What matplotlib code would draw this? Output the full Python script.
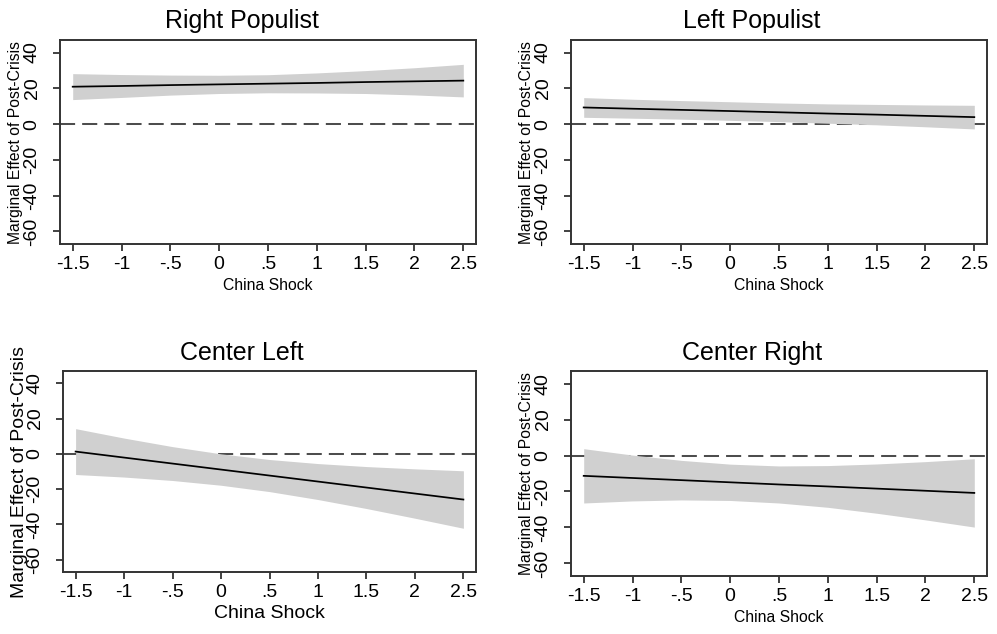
import matplotlib
matplotlib.use('Agg')
import matplotlib.pyplot as plt

plt.rcParams['font.family'] = ['Liberation Sans', 'DejaVu Sans']
plt.rcParams['axes.unicode_minus'] = False

# ----- DATA -----
china_shock = [-1.5, -1, -0.5, 0, 0.5, 1, 1.5, 2, 2.5]

right_pop_est = [20.9, 21.3, 21.8, 22.2, 22.6, 23.0, 23.5, 23.9, 24.3]
right_pop_lo = [13.7, 14.9, 16.2, 17.1, 17.5, 17.4, 17.1, 16.3, 15.2]
right_pop_hi = [28.2, 27.7, 27.4, 27.3, 27.6, 28.6, 29.9, 31.5, 33.4]

left_pop_est = [9.3, 8.6, 7.95, 7.3, 6.6, 5.9, 5.3, 4.6, 3.9]
left_pop_lo = [3.8, 3.3, 2.75, 2.1, 1.4, 0.5, -0.4, -1.5, -2.7]
left_pop_hi = [14.8, 13.9, 13.15, 12.5, 11.8, 11.3, 11.0, 10.7, 10.5]

center_left_est = [1.3, -2.1, -5.5, -8.9, -12.3, -15.7, -19.1, -22.5, -25.9]
center_left_lo = [-11.7, -13.15, -15.1, -17.8, -21.4, -25.9, -31.0, -36.5, -42.2]
center_left_hi = [14.3, 8.95, 4.1, 0.0, -3.2, -5.5, -7.2, -8.5, -9.6]

center_right_est = [-11.3, -12.5, -13.7, -14.9, -16.1, -17.2, -18.4, -19.6, -20.8]
center_right_lo = [-26.4, -25.25, -24.7, -25.0, -26.4, -28.8, -32.1, -35.8, -39.8]
center_right_hi = [3.8, 0.25, -2.7, -4.8, -5.8, -5.6, -4.7, -3.4, -1.8]

x_ticks = [-1.5, -1, -0.5, 0, 0.5, 1, 1.5, 2, 2.5]
x_tick_labels = ['-1.5', '-1', '-.5', '0', '.5', '1', '1.5', '2', '2.5']
y_ticks = [-60, -40, -20, 0, 20, 40]

W, H = 997, 634
fig = plt.figure(figsize=(W / 100, H / 100), dpi=100)

# title, est, lo, hi, axes box (left, top, right, bottom px), title pos (x, baseline), label size
panels = [
    ('Right Populist', right_pop_est, right_pop_lo, right_pop_hi, (60, 40, 476, 244), (242, 28), 11.3),
    ('Left Populist', left_pop_est, left_pop_lo, left_pop_hi, (571, 40, 987, 244), (752, 28), 11.3),
    ('Center Left', center_left_est, center_left_lo, center_left_hi, (63, 371, 476, 572), (242, 360), 14),
    ('Center Right', center_right_est, center_right_lo, center_right_hi, (571, 371, 987, 576), (752, 360), 11.3),
]

frame = '#333333'
for title, est, lo, hi, box, tpos, lab_size in panels:
    l, t, r, b = box
    ax = fig.add_axes([l / W, 1 - b / H, (r - l) / W, (b - t) / H])

    ax.axhline(0, color='#4d4d4d', lw=1.45, dashes=(7.5, 3.5), zorder=1)
    ax.fill_between(china_shock, lo, hi, color='#d0d0d0', lw=0, zorder=2)
    ax.plot(china_shock, est, color='black', lw=1.25, zorder=3)

    ax.set_xlim(-1.63, 2.63)
    ax.set_ylim(-67, 47)
    ax.set_xticks(x_ticks)
    ax.set_xticklabels(x_tick_labels)
    ax.set_yticks(y_ticks)
    ax.tick_params(axis='both', length=5, width=1.3, color=frame, labelsize=14)
    ax.tick_params(axis='x', pad=3.5)
    ax.tick_params(axis='y', pad=9)
    plt.setp(ax.get_yticklabels(), rotation=90, va='center')
    for sp in ax.spines.values():
        sp.set_color(frame)
        sp.set_linewidth(1.4)

    ax.set_xlabel('China Shock', fontsize=lab_size)
    ax.xaxis.label.set_va('center')
    ax.xaxis.set_label_coords(0.5, -41 / (b - t))
    ax.set_ylabel('Marginal Effect of Post-Crisis', fontsize=lab_size)
    ax.yaxis.label.set_va('center')
    ax.yaxis.set_label_coords(-44 / (r - l), 0.5)

    fig.text(tpos[0] / W, 1 - tpos[1] / H, title, fontsize=18,
             ha='center', va='baseline')

fig.savefig('out.png', dpi=100)
